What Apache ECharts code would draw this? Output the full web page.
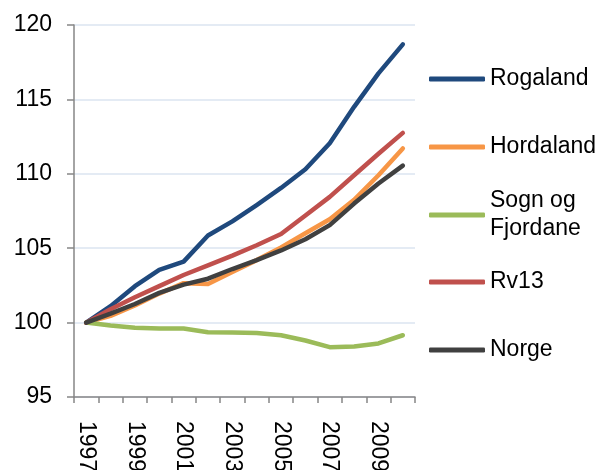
<!DOCTYPE html>
<html>
<head>
<meta charset="utf-8">
<script src="https://cdn.jsdelivr.net/npm/echarts@6/dist/echarts.min.js"></script>
<style>
  html, body { margin: 0; padding: 0; background: #fff; }
  #chart { width: 602px; height: 470px; }
</style>
</head>
<body>
<div id="chart"></div>
<script>
const years = ['1997', '1998', '1999', '2000', '2001', '2002', '2003', '2004', '2005', '2006', '2007', '2008', '2009', '2010']
const rogaland = [100, 101.1, 102.45, 103.55, 104.1, 105.85, 106.8, 107.9, 109.05, 110.3, 112.05, 114.5, 116.75, 118.7]
const hordaland = [100, 100.45, 101.15, 101.95, 102.65, 102.6, 103.4, 104.2, 105.05, 106.0, 106.95, 108.25, 109.9, 111.7]
const sognOgFjordane = [100, 99.8, 99.65, 99.6, 99.6, 99.35, 99.33, 99.3, 99.15, 98.8, 98.35, 98.4, 98.6, 99.15]
const rv13 = [100, 100.9, 101.7, 102.45, 103.2, 103.85, 104.5, 105.2, 105.95, 107.2, 108.45, 109.9, 111.35, 112.75]
const norge = [100, 100.6, 101.25, 102.0, 102.55, 102.95, 103.6, 104.2, 104.85, 105.6, 106.55, 108.0, 109.35, 110.55]

const font = "'Liberation Sans', Arial, sans-serif"
const colors = ['#1f497d', '#f79646', '#9bbb59', '#c0504d', '#404040']

// one legend per item so the vertical spacing matches
const legendItems = [
  { name: 'Rogaland', top: 79 - 14 },
  { name: 'Hordaland', top: 147 - 14 },
  { name: 'Sogn og Fjordane', top: 215 - 42, padTop: 28 },
  { name: 'Rv13', top: 282 - 14 },
  { name: 'Norge', top: 350 - 14 }
]

const chart = echarts.init(document.getElementById('chart'))

const makeSeries = (name, data, i) => ({
  name: name,
  type: 'line',
  data: data,
  symbol: 'none',
  lineStyle: { width: 4.5, color: colors[i], cap: 'round', join: 'round' },
  itemStyle: { color: colors[i] },
  z: 2 + i
})

chart.setOption({
  animation: false,
  textStyle: { fontFamily: font },
  grid: { left: 74, right: 187, top: 25, bottom: 73, outerBoundsMode: 'none', containLabel: false },
  legend: legendItems.map(it => ({
    data: [it.name],
    left: 429,
    top: it.top,
    orient: 'vertical',
    padding: 0,
    icon: 'roundRect',
    itemWidth: 56,
    itemHeight: 5,
    itemGap: 4,
    selectedMode: false,
    formatter: n => n === 'Sogn og Fjordane' ? 'Sogn og\nFjordane' : n,
    textStyle: {
      fontFamily: font,
      fontSize: 23,
      color: '#000',
      lineHeight: 28,
      padding: [it.padTop || 0, 0, 0, 0]
    }
  })),
  xAxis: {
    type: 'category',
    data: years,
    boundaryGap: true,
    axisLine: { lineStyle: { color: '#868686', width: 1.5 } },
    axisTick: { show: true, interval: 0, length: 6, lineStyle: { color: '#868686', width: 1.5 } },
    axisLabel: {
      interval: 1,
      rotate: -90,
      margin: 24,
      fontSize: 23,
      color: '#000',
      fontFamily: font
    },
    splitLine: { show: false }
  },
  yAxis: {
    type: 'value',
    min: 95,
    max: 120,
    interval: 5,
    axisLine: { show: true, lineStyle: { color: '#868686', width: 1.5 } },
    axisTick: { show: true, length: 7, lineStyle: { color: '#868686', width: 1.5 } },
    axisLabel: { margin: 22, fontSize: 23, color: '#000', fontFamily: font },
    splitLine: { lineStyle: { color: '#dbe5f1', width: 1.5 } }
  },
  series: [
    makeSeries('Rogaland', rogaland, 0),
    makeSeries('Hordaland', hordaland, 1),
    makeSeries('Sogn og Fjordane', sognOgFjordane, 2),
    makeSeries('Rv13', rv13, 3),
    makeSeries('Norge', norge, 4)
  ]
})
</script>
</body>
</html>
